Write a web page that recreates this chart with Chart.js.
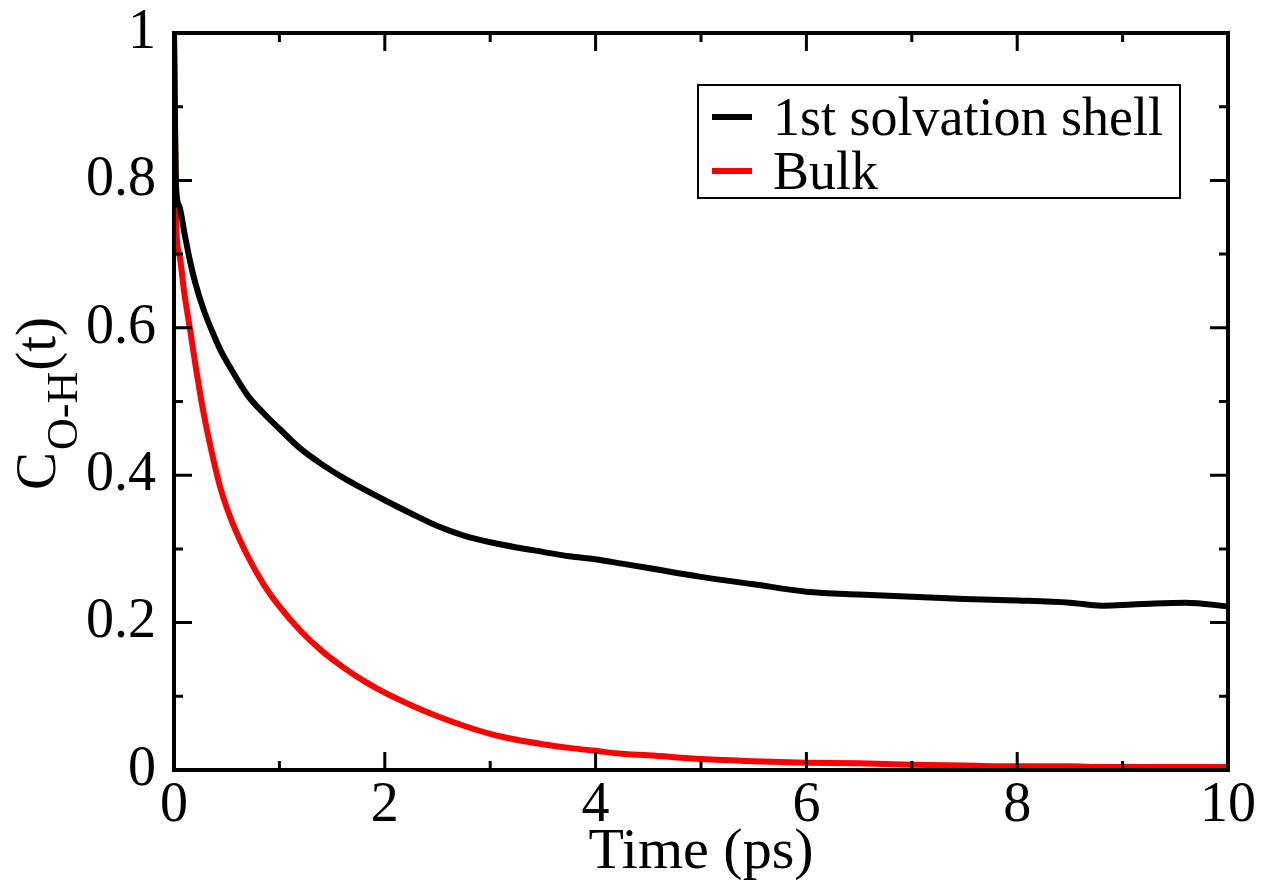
<!DOCTYPE html>
<html>
<head>
<meta charset="utf-8">
<script src="https://cdn.jsdelivr.net/npm/chart.js@4/dist/chart.umd.min.js"></script>
<style>
  html, body { margin: 0; padding: 0; background: #fff; }
  canvas { display: block; }
</style>
</head>
<body>
<canvas id="corr-chart" width="1263" height="886"></canvas>
<script>
// Time axis (ps), shared by both curves
const times = [0, 0.02, 0.05, 0.1, 0.15, 0.2, 0.28, 0.36, 0.44, 0.55, 0.7, 0.85, 1.0, 1.2, 1.4, 1.6, 1.8, 2.0,
    2.25, 2.5, 2.75, 3.0, 3.25, 3.5, 3.75, 4.0, 4.25, 4.5, 5.0, 5.5, 6.0, 6.5, 7.0, 7.5, 8.0, 8.5, 8.8, 9.0, 9.3, 9.6, 10.0];

// C_O-H(t), first solvation shell
const shellValues = [1.0, 0.79, 0.765, 0.728, 0.692, 0.662, 0.625, 0.596, 0.570, 0.542, 0.508, 0.484, 0.463, 0.436, 0.415, 0.397, 0.381, 0.366,
    0.348, 0.331, 0.318, 0.309, 0.302, 0.296, 0.290, 0.286, 0.280, 0.274, 0.262, 0.252, 0.242, 0.238, 0.235, 0.232, 0.230, 0.227, 0.223, 0.224, 0.226, 0.227, 0.222];

// C_O-H(t), bulk water
const bulkValues = [1.0, 0.74, 0.70, 0.645, 0.60, 0.553, 0.485, 0.43, 0.383, 0.337, 0.290, 0.252, 0.222, 0.189, 0.162, 0.140, 0.121, 0.105,
    0.088, 0.073, 0.060, 0.049, 0.041, 0.035, 0.030, 0.026, 0.022, 0.020, 0.015, 0.012, 0.010, 0.009, 0.007, 0.006, 0.005, 0.005, 0.004, 0.004, 0.004, 0.004, 0.004];

const seriesLabels = ['1st solvation shell', 'Bulk'];
const seriesColors = ['#000000', '#ff0000'];
const xTickLabels = ['0', '2', '4', '6', '8', '10'];
const yTickLabels = ['0', '0.2', '0.4', '0.6', '0.8', '1'];

const SERIF = '"Liberation Serif", "Times New Roman", serif';

const toPoints = (vals) => vals.map((v, i) => ({ x: times[i], y: v }));

// frame + inward major/minor ticks on all four sides
const framePlugin = {
    id: 'frame',
    afterDatasetsDraw(chart) {
        const { ctx, chartArea: a, scales: { x, y } } = chart;
        ctx.save();
        ctx.strokeStyle = '#000';
        ctx.lineCap = 'butt';
        ctx.lineWidth = 3;
        const major = 18, minor = 9;
        for (let v = 0; v <= 10; v += 1) {
            const px = x.getPixelForValue(v);
            const len = v % 2 === 0 ? major : minor;
            ctx.beginPath();
            ctx.moveTo(px, a.bottom); ctx.lineTo(px, a.bottom - len);
            ctx.moveTo(px, a.top); ctx.lineTo(px, a.top + len);
            ctx.stroke();
        }
        for (let k = 0; k <= 10; k++) {
            const py = y.getPixelForValue(k / 10);
            const len = k % 2 === 0 ? major : minor;
            ctx.beginPath();
            ctx.moveTo(a.left, py); ctx.lineTo(a.left + len, py);
            ctx.moveTo(a.right, py); ctx.lineTo(a.right - len, py);
            ctx.stroke();
        }
        ctx.lineWidth = 4;
        ctx.strokeRect(a.left, a.top, a.right - a.left, a.bottom - a.top);
        ctx.restore();
    }
};

// boxed legend in the upper right
const legendPlugin = {
    id: 'boxLegend',
    afterDraw(chart) {
        const { ctx } = chart;
        ctx.save();
        ctx.lineWidth = 2;
        ctx.strokeStyle = '#000';
        ctx.strokeRect(698, 85, 482, 113);
        const rows = [135, 189];
        chart.data.datasets.forEach((ds, i) => {
            const mid = rows[i] - 18;
            ctx.strokeStyle = ds.borderColor;
            ctx.lineWidth = 6;
            ctx.beginPath();
            ctx.moveTo(712, mid); ctx.lineTo(752, mid);
            ctx.stroke();
            ctx.fillStyle = '#000';
            ctx.font = `54px ${SERIF}`;
            ctx.textBaseline = 'alphabetic';
            ctx.textAlign = 'left';
            ctx.fillText(ds.label, 773, rows[i]);
        });
        ctx.restore();
    }
};

// rotated y title with subscript: C_{O-H}(t)
const yTitlePlugin = {
    id: 'yTitle',
    afterDraw(chart) {
        const { ctx } = chart;
        ctx.save();
        ctx.translate(55, 490);
        ctx.rotate(-Math.PI / 2);
        ctx.fillStyle = '#000';
        ctx.textBaseline = 'alphabetic';
        ctx.textAlign = 'left';
        let pos = 0;
        ctx.font = `57px ${SERIF}`;
        ctx.fillText('C', pos, 0);
        pos += ctx.measureText('C').width + 2;
        ctx.font = `44px ${SERIF}`;
        ctx.fillText('O-H', pos, 22);
        pos += ctx.measureText('O-H').width + 1;
        ctx.font = `57px ${SERIF}`;
        ctx.fillText('(t)', pos, 0);
        ctx.restore();
    }
};

new Chart(document.getElementById('corr-chart'), {
    type: 'line',
    data: {
        datasets: [
            {
                label: seriesLabels[0],
                data: toPoints(shellValues),
                borderColor: seriesColors[0],
                borderWidth: 6,
                pointRadius: 0,
                cubicInterpolationMode: 'monotone',
                fill: false
            },
            {
                label: seriesLabels[1],
                data: toPoints(bulkValues),
                borderColor: seriesColors[1],
                borderWidth: 6,
                pointRadius: 0,
                cubicInterpolationMode: 'monotone',
                fill: false
            }
        ]
    },
    options: {
        responsive: false,
        animation: false,
        devicePixelRatio: 1,
        layout: { padding: { top: 33, right: 35, left: 0, bottom: 0 } },
        scales: {
            x: {
                type: 'linear',
                min: 0,
                max: 10,
                grid: { display: false },
                border: { display: false },
                ticks: {
                    stepSize: 2,
                    autoSkip: false,
                    maxRotation: 0,
                    padding: 0,
                    color: '#000',
                    font: { family: SERIF, size: 56, lineHeight: 1 },
                    callback: (v, i) => xTickLabels[i]
                },
                title: {
                    display: true,
                    text: 'Time (ps)',
                    color: '#000',
                    font: { family: SERIF, size: 58, lineHeight: 1 },
                    padding: { top: 0, bottom: 4 }
                },
                afterFit: (s) => { s.height = 116; }
            },
            y: {
                min: 0,
                max: 1,
                grid: { display: false },
                border: { display: false },
                ticks: {
                    stepSize: 0.2,
                    autoSkip: false,
                    padding: 10,
                    color: '#000',
                    font: { family: SERIF, size: 56, lineHeight: 0.75 },
                    callback: (v, i) => yTickLabels[i]
                },
                afterFit: (s) => { s.width = 174; }
            }
        },
        plugins: {
            legend: { display: false },
            tooltip: { enabled: false }
        }
    },
    plugins: [framePlugin, legendPlugin, yTitlePlugin]
});
</script>
</body>
</html>
